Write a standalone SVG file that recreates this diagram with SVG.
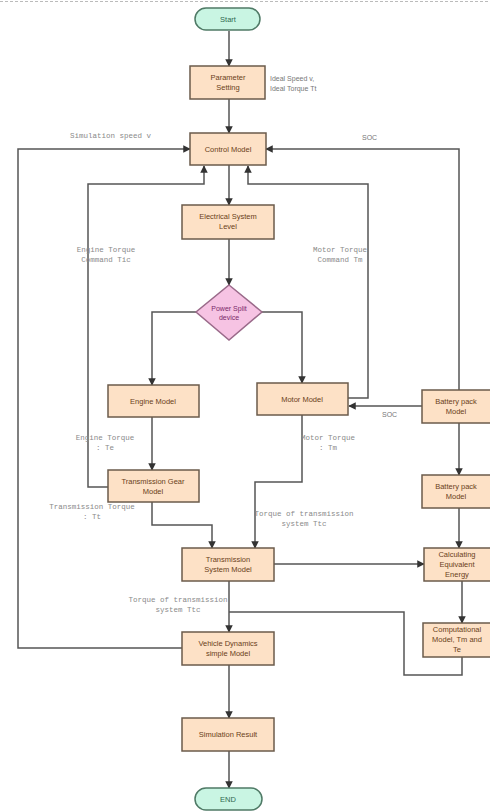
<svg xmlns="http://www.w3.org/2000/svg" width="490" height="811" viewBox="0 0 490 811">
<style>
.box{fill:#fde1c6;stroke:#6b5b4b;stroke-width:1.5}
.term{fill:#c9f5e3;stroke:#4f7a66;stroke-width:1.5}
.dia{fill:#f6c3e3;stroke:#9a6a8a;stroke-width:1.5}
.bt{font-family:"Liberation Sans",Arial,sans-serif;font-size:7.5px;fill:#6a3f1a;text-anchor:middle}
.tt{font-family:"Liberation Sans",Arial,sans-serif;font-size:7.5px;fill:#2f6a50;text-anchor:middle}
.dt{font-family:"Liberation Sans",Arial,sans-serif;font-size:7px;fill:#7a2a6a;text-anchor:middle}
.lbl{font-family:"Liberation Mono","Courier New",monospace;font-size:7.5px;fill:#8a8a8a}
.sl{font-family:"Liberation Sans",Arial,sans-serif;font-size:7px;fill:#777}
.c{fill:none;stroke:#555;stroke-width:1.5}
</style>
<defs>
<marker id="a" viewBox="0 0 10 10" refX="9" refY="5" markerWidth="5" markerHeight="5" orient="auto">
<path d="M0,0 L10,5 L0,10 z" fill="#333"/>
</marker>
</defs>
<line x1="0" y1="1.5" x2="490" y2="1.5" stroke="#bbb" stroke-width="1" stroke-dasharray="3,2"/>

<g id="connectors">
<path class="c" d="M229,31 V66" marker-end="url(#a)"/>
<path class="c" d="M229,99 V133" marker-end="url(#a)"/>
<path class="c" d="M229,165 V205" marker-end="url(#a)"/>
<path class="c" d="M229,239 V285" marker-end="url(#a)"/>
<path class="c" d="M196,312 H152 V385" marker-end="url(#a)"/>
<path class="c" d="M262,312 H302 V383" marker-end="url(#a)"/>
<path class="c" d="M152,417 V470" marker-end="url(#a)"/>
<path class="c" d="M108,487 H88 V184 H204 V166" marker-end="url(#a)"/>
<path class="c" d="M348,398 H368 V184 H248 V166" marker-end="url(#a)"/>
<path class="c" d="M422,406 H349" marker-end="url(#a)"/>
<path class="c" d="M459,390 V149 H266" marker-end="url(#a)"/>
<path class="c" d="M182,648 H18 V149 H190" marker-end="url(#a)"/>
<path class="c" d="M459,423 V475" marker-end="url(#a)"/>
<path class="c" d="M459,508 V548" marker-end="url(#a)"/>
<path class="c" d="M462,581 V623" marker-end="url(#a)"/>
<path class="c" d="M462,657 V675 H404 V612 H229"/>
<path class="c" d="M152,502 V525 H212 V548" marker-end="url(#a)"/>
<path class="c" d="M302,415 V482 H255 V548" marker-end="url(#a)"/>
<path class="c" d="M274,564 H424" marker-end="url(#a)"/>
<path class="c" d="M229,581 V632" marker-end="url(#a)"/>
<path class="c" d="M229,665 V718" marker-end="url(#a)"/>
<path class="c" d="M229,751 V788" marker-end="url(#a)"/>
</g>

<g id="labels">
<text class="sl" x="270" y="81">Ideal Speed v,</text>
<text class="sl" x="270" y="91">Ideal Torque Tt</text>
<text class="lbl" x="70" y="138">Simulation speed v</text>
<text class="sl" x="362" y="140">SOC</text>
<text class="lbl" x="106" y="252" text-anchor="middle">Engine Torque</text>
<text class="lbl" x="106" y="262" text-anchor="middle">Command Tic</text>
<text class="lbl" x="340" y="252" text-anchor="middle">Motor Torque</text>
<text class="lbl" x="340" y="262" text-anchor="middle">Command Tm</text>
<text class="sl" x="382" y="417">SOC</text>
<text class="lbl" x="105" y="440" text-anchor="middle">Engine Torque</text>
<text class="lbl" x="105" y="450" text-anchor="middle">: Te</text>
<text class="lbl" x="328" y="440" text-anchor="middle">Motor Torque</text>
<text class="lbl" x="328" y="450" text-anchor="middle">: Tm</text>
<text class="lbl" x="92" y="509" text-anchor="middle">Transmission Torque</text>
<text class="lbl" x="92" y="519" text-anchor="middle">: Tt</text>
<text class="lbl" x="304" y="516" text-anchor="middle">Torque of transmission</text>
<text class="lbl" x="304" y="526" text-anchor="middle">system Ttc</text>
<text class="lbl" x="178" y="602" text-anchor="middle">Torque of transmission</text>
<text class="lbl" x="178" y="612" text-anchor="middle">system Ttc</text>
</g>

<g id="start"><rect class="term" x="195" y="8" width="65" height="22" rx="11"/><text class="tt" x="228" y="22">Start</text></g>
<g id="param"><rect class="box" x="190" y="66" width="75" height="33"/><text class="bt" x="228" y="80">Parameter</text><text class="bt" x="228" y="90">Setting</text></g>
<g id="control"><rect class="box" x="190" y="133" width="76" height="32"/><text class="bt" x="228" y="152">Control Model</text></g>
<g id="electrical"><rect class="box" x="182" y="205" width="92" height="34"/><text class="bt" x="228" y="219">Electrical System</text><text class="bt" x="228" y="229">Level</text></g>
<g id="psd"><path class="dia" d="M229,285 L262,312 L229,340 L196,312 Z"/><text class="dt" x="229" y="311">Power Split</text><text class="dt" x="229" y="320">device</text></g>
<g id="engine"><rect class="box" x="108" y="385" width="91" height="32"/><text class="bt" x="153" y="404">Engine Model</text></g>
<g id="motor"><rect class="box" x="257" y="383" width="91" height="32"/><text class="bt" x="302" y="402">Motor Model</text></g>
<g id="battery1"><rect class="box" x="422" y="390" width="72" height="33"/><text class="bt" x="456" y="404">Battery pack</text><text class="bt" x="456" y="414">Model</text></g>
<g id="gear"><rect class="box" x="108" y="470" width="91" height="32"/><text class="bt" x="153" y="484">Transmission Gear</text><text class="bt" x="153" y="494">Model</text></g>
<g id="battery2"><rect class="box" x="422" y="475" width="72" height="33"/><text class="bt" x="456" y="489">Battery pack</text><text class="bt" x="456" y="499">Model</text></g>
<g id="transsys"><rect class="box" x="182" y="548" width="92" height="33"/><text class="bt" x="228" y="562">Transmission</text><text class="bt" x="228" y="572">System Model</text></g>
<g id="calc"><rect class="box" x="424" y="548" width="70" height="33"/><text class="bt" x="457" y="557">Calculating</text><text class="bt" x="457" y="567">Equivalent</text><text class="bt" x="457" y="577">Energy</text></g>
<g id="comp"><rect class="box" x="423" y="623" width="71" height="34"/><text class="bt" x="457" y="632">Computational</text><text class="bt" x="457" y="642">Model, Tm and</text><text class="bt" x="457" y="652">Te</text></g>
<g id="vehicle"><rect class="box" x="182" y="632" width="92" height="33"/><text class="bt" x="228" y="646">Vehicle Dynamics</text><text class="bt" x="228" y="656">simple Model</text></g>
<g id="result"><rect class="box" x="182" y="718" width="92" height="33"/><text class="bt" x="228" y="737">Simulation Result</text></g>
<g id="end"><rect class="term" x="195" y="788" width="67" height="22" rx="11"/><text class="tt" x="228" y="802">END</text></g>
</svg>
